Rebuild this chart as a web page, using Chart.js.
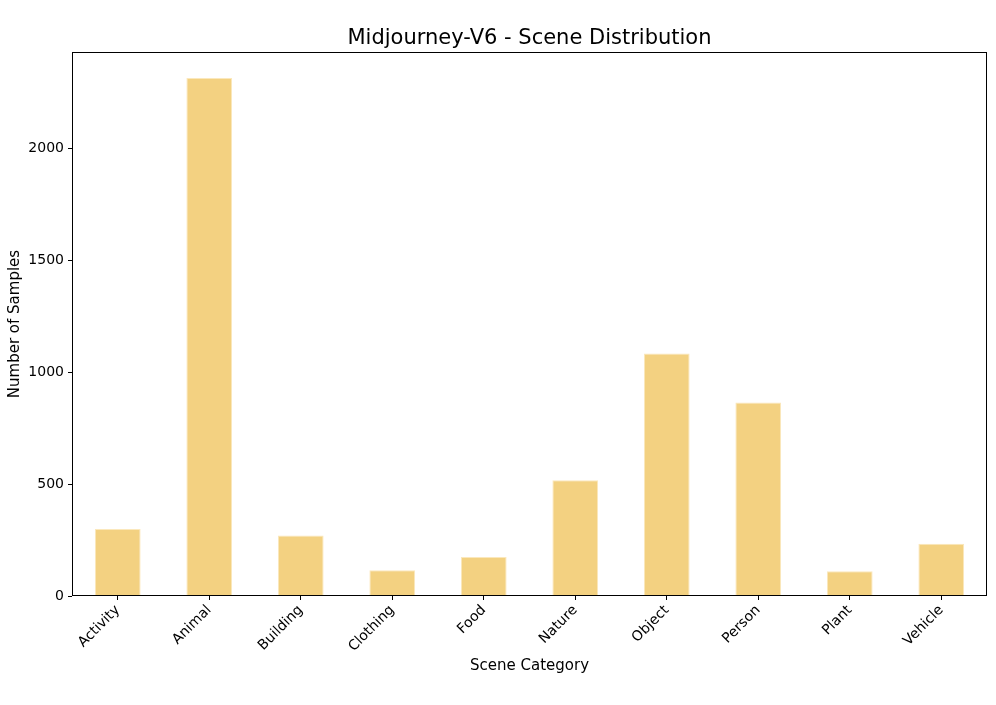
<!DOCTYPE html>
<html>
<head>
<meta charset="utf-8">
<script src="https://cdn.jsdelivr.net/npm/chart.js@4"></script>
<style>
  body { margin: 0; background: #fff; }
</style>
</head>
<body>
<canvas id="chart" width="996" height="705"></canvas>
<script>
// scene categories and sample counts
const categories = ['Activity', 'Animal', 'Building', 'Clothing', 'Food', 'Nature', 'Object', 'Person', 'Plant', 'Vehicle'];
const counts = [299, 2316, 271, 115, 174, 517, 1084, 865, 111, 234];
const yTicks = [0, 500, 1000, 1500, 2000];
const titleText = 'Midjourney-V6 - Scene Distribution';

const FONT = 'DejaVu Sans';

// spines on all four sides + title centred over the axes (matplotlib style)
const frame = {
  id: 'frame',
  afterDraw(chart) {
    const a = chart.chartArea, ctx = chart.ctx;
    ctx.save();
    ctx.strokeStyle = '#000';
    ctx.lineWidth = 1;
    ctx.strokeRect(Math.round(a.left) + 0.5, Math.round(a.top) + 0.5,
                   Math.round(a.right - a.left) - 1, Math.round(a.bottom - a.top) - 1);
    ctx.fillStyle = '#000';
    ctx.font = '21px "' + FONT + '"';
    ctx.textAlign = 'center';
    ctx.textBaseline = 'middle';
    ctx.fillText(titleText, (a.left + a.right) / 2, 39);
    ctx.restore();
  }
};

new Chart(document.getElementById('chart'), {
  type: 'bar',
  data: {
    labels: categories,
    datasets: [{
      data: counts,
      backgroundColor: '#F3D181',
      borderColor: '#FBE8BC',
      borderWidth: 1,
      borderSkipped: 'bottom',
      categoryPercentage: 1,
      barPercentage: 0.5
    }]
  },
  options: {
    responsive: false,
    animation: false,
    layout: { padding: { top: 52, right: 9 } },
    plugins: {
      legend: { display: false },
      tooltip: { enabled: false },
      title: { display: false }
    },
    scales: {
      x: {
        grid: { display: true, offset: false, drawOnChartArea: false, tickLength: 4, tickColor: '#000' },
        border: { display: false },
        ticks: {
          color: '#000',
          font: { family: FONT, size: 14 },
          minRotation: 45,
          maxRotation: 45,
          padding: 2
        },
        title: {
          display: true,
          text: 'Scene Category',
          color: '#000',
          font: { family: FONT, size: 15 },
          padding: { top: 0, bottom: 30 }
        },
        afterFit(scale) { scale.height = 109; }
      },
      y: {
        min: 0,
        max: 2432,
        grid: { display: true, drawOnChartArea: false, tickLength: 4, tickColor: '#000' },
        border: { display: false },
        ticks: {
          color: '#000',
          font: { family: FONT, size: 14 },
          stepSize: 500,
          padding: 4,
          callback: v => String(v)
        },
        afterBuildTicks(scale) {
          scale.ticks = yTicks.map(v => ({ value: v }));
        },
        title: {
          display: true,
          text: 'Number of Samples',
          color: '#000',
          font: { family: FONT, size: 15 },
          padding: { top: 6, bottom: 0 }
        },
        afterFit(scale) { scale.width = 72; }
      }
    }
  },
  plugins: [frame]
});
</script>
</body>
</html>
